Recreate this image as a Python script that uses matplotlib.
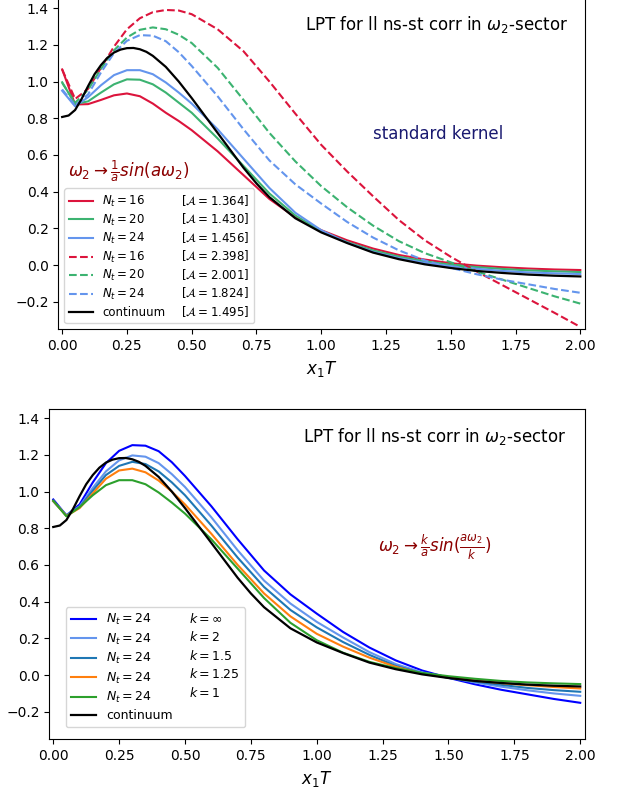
import matplotlib
matplotlib.use("Agg")
import matplotlib.pyplot as plt
from matplotlib.lines import Line2D

# grid of x1*T points used for the lattice curves
x = [0, 0.05, 0.1, 0.15, 0.2, 0.25, 0.3, 0.35, 0.4, 0.45, 0.5, 0.6, 0.7,
     0.8, 0.9, 1.0, 1.1, 1.2, 1.3, 1.4, 1.5, 1.6, 1.7, 1.8, 1.9, 2.0]

# standard kernel, omega_2 -> sin(a omega_2)/a
nt16_sin = [1.066, 0.875, 0.877, 0.9, 0.925, 0.935, 0.92, 0.88, 0.83, 0.785, 0.735, 0.62, 0.49,
            0.36, 0.26, 0.19, 0.135, 0.09, 0.055, 0.03, 0.01, -0.003, -0.012, -0.019, -0.024, -0.027]
nt20_sin = [0.996, 0.878, 0.892, 0.94, 0.985, 1.012, 1.01, 0.985, 0.94, 0.885, 0.83, 0.69, 0.54,
            0.39, 0.27, 0.185, 0.125, 0.08, 0.046, 0.02, 0.002, -0.011, -0.021, -0.029, -0.034, -0.038]
nt24_sin = [0.95, 0.865, 0.915, 0.98, 1.035, 1.062, 1.062, 1.04, 0.995, 0.94, 0.88, 0.74, 0.58,
            0.42, 0.285, 0.19, 0.122, 0.072, 0.038, 0.012, -0.006, -0.02, -0.032, -0.04, -0.045, -0.049]

# naive omega_2 (dashed)
nt16_raw = [1.066, 0.905, 0.96, 1.075, 1.19, 1.285, 1.345, 1.378, 1.39, 1.387, 1.367, 1.285, 1.165,
            1.0, 0.825, 0.655, 0.51, 0.375, 0.245, 0.135, 0.045, -0.035, -0.11, -0.185, -0.26, -0.337]
nt20_raw = [0.993, 0.884, 0.955, 1.07, 1.17, 1.24, 1.282, 1.295, 1.285, 1.255, 1.21, 1.075, 0.9,
            0.72, 0.565, 0.43, 0.315, 0.215, 0.13, 0.065, 0.015, -0.035, -0.08, -0.125, -0.17, -0.21]
nt24_raw = [0.957, 0.87, 0.93, 1.05, 1.155, 1.222, 1.253, 1.25, 1.22, 1.16, 1.085, 0.92, 0.74,
            0.57, 0.44, 0.335, 0.235, 0.15, 0.08, 0.025, -0.015, -0.05, -0.08, -0.105, -0.13, -0.151]

# Nt=24 with omega_2 -> k/a sin(a omega_2/k)
nt24_k2 = [0.948, 0.872, 0.92, 1.02, 1.11, 1.17, 1.197, 1.19, 1.155, 1.095, 1.025, 0.86, 0.68,
           0.515, 0.39, 0.29, 0.205, 0.125, 0.06, 0.015, -0.013, -0.04, -0.063, -0.083, -0.1, -0.113]
nt24_k15 = [0.948, 0.87, 0.915, 1.005, 1.09, 1.14, 1.162, 1.15, 1.11, 1.05, 0.98, 0.815, 0.64,
            0.48, 0.355, 0.26, 0.18, 0.11, 0.05, 0.01, -0.015, -0.035, -0.053, -0.07, -0.082, -0.091]
nt24_k125 = [0.948, 0.867, 0.91, 0.99, 1.07, 1.115, 1.125, 1.105, 1.06, 1.0, 0.93, 0.77, 0.6,
             0.445, 0.32, 0.225, 0.155, 0.095, 0.045, 0.008, -0.013, -0.03, -0.044, -0.055, -0.065, -0.073]

# continuum result
xc = [0, 0.025, 0.05, 0.075, 0.1, 0.125, 0.15, 0.175, 0.2, 0.225, 0.25, 0.275, 0.3, 0.325,
      0.35, 0.4, 0.45, 0.5, 0.55, 0.6, 0.65, 0.7, 0.75, 0.8, 0.9, 1.0, 1.1, 1.2, 1.3, 1.4,
      1.5, 1.6, 1.7, 1.8, 1.9, 2.0]
cont = [0.807, 0.815, 0.845, 0.905, 0.975, 1.04, 1.09, 1.13, 1.158, 1.174, 1.182, 1.183, 1.176, 1.162,
        1.14, 1.08, 1.0, 0.91, 0.815, 0.72, 0.625, 0.53, 0.445, 0.37, 0.255, 0.178, 0.12, 0.068, 0.032, 0.004,
        -0.016, -0.032, -0.043, -0.052, -0.058, -0.062]

areas_sin = ["1.364", "1.430", "1.456"]
areas_raw = ["2.398", "2.001", "1.824"]
area_cont = "1.495"
nts = [16, 20, 24]
kvals = [r"\infty", "2", "1.5", "1.25", "1"]

fig = plt.figure(figsize=(6.28, 7.96), dpi=100)
ax1 = fig.add_axes([0.0928, 0.5863, 0.8387, 0.4150])
ax2 = fig.add_axes([0.0785, 0.0712, 0.8530, 0.4150])

cols = ["crimson", "mediumseagreen", "cornflowerblue"]
handles, labels = [], []
for nt, y, c in zip(nts, [nt16_sin, nt20_sin, nt24_sin], cols):
    ln, = ax1.plot(x, y, color=c, lw=1.5)
    handles.append(ln)
    labels.append(r"$N_t = %d$" % nt)
for nt, y, c in zip(nts, [nt16_raw, nt20_raw, nt24_raw], cols):
    ln, = ax1.plot(x, y, color=c, lw=1.5, ls="--")
    handles.append(ln)
    labels.append(r"$N_t = %d$" % nt)
ln, = ax1.plot(xc, cont, color="black", lw=1.6)
handles.append(ln)
labels.append("continuum")
# second legend column: the A values, no line
blank = Line2D([], [], color="none")
for a in areas_sin + areas_raw + [area_cont]:
    handles.append(blank)
    labels.append(r"[$\mathcal{A} = %s$]" % a)
ax1.legend(handles, labels, ncol=2, loc="lower left", fontsize=8.5,
           columnspacing=-1.45, borderaxespad=0.5, labelspacing=0.3)

ax1.text(0.937, 1.31, r"LPT for ll ns-st corr in $\omega_2$-sector", fontsize=12, va="center")
ax1.text(1.198, 0.712, "standard kernel", fontsize=12, color="midnightblue", va="center")
ax1.text(0.023, 0.508, r"$\omega_2 \rightarrow \frac{1}{a} sin(a\omega_2)$", fontsize=12,
         color="darkred", va="center")

# bottom panel
bcols = ["blue", "cornflowerblue", "tab:blue", "tab:orange", "tab:green"]
handles, labels = [], []
for k, y, c in zip(kvals, [nt24_raw, nt24_k2, nt24_k15, nt24_k125, nt24_sin], bcols):
    ln, = ax2.plot(x, y, color=c, lw=1.5)
    handles.append(ln)
    labels.append(r"$N_t = 24$")
ln, = ax2.plot(xc, cont, color="black", lw=1.6)
handles.append(ln)
labels.append("continuum")
for k in kvals + [None]:
    handles.append(blank)
    labels.append(r"$k = %s$" % k if k is not None else "")
ax2.legend(handles, labels, ncol=2, loc="lower left", fontsize=9,
           columnspacing=-1.45, bbox_to_anchor=(0.031, 0.036), borderaxespad=0,
           labelspacing=0.35)

ax2.text(0.948, 1.299, r"LPT for ll ns-st corr in $\omega_2$-sector", fontsize=12, va="center")
ax2.text(1.232, 0.694, r"$\omega_2 \rightarrow \frac{k}{a} sin(\frac{a\omega_2}{k})$", fontsize=12,
         color="darkred", va="center")

for ax in (ax1, ax2):
    ax.set_xlim(-0.015, 2.018)
    ax.set_ylim(-0.35, 1.45)
    ax.set_xticks([0, 0.25, 0.5, 0.75, 1.0, 1.25, 1.5, 1.75, 2.0])
    ax.set_yticks([-0.2, 0.0, 0.2, 0.4, 0.6, 0.8, 1.0, 1.2, 1.4])
    ax.set_xlabel(r"$x_1T$", fontsize=12)

fig.savefig("out.png", dpi=100)
